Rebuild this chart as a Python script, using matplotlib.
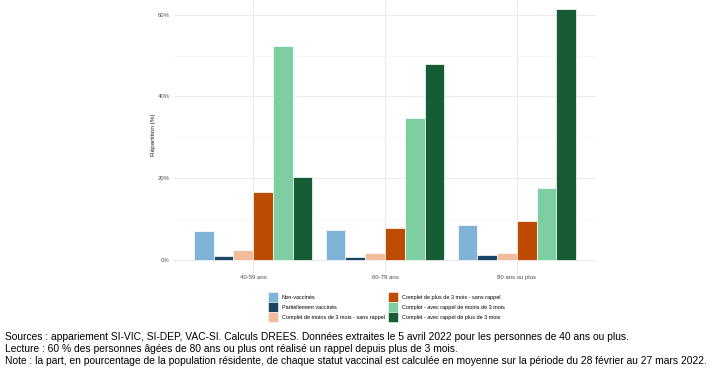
import numpy as np
import matplotlib.pyplot as plt
from matplotlib.patches import Patch

plt.rcParams['font.family'] = ['Liberation Sans', 'DejaVu Sans']

groups = ["40-59 ans", "60-79 ans", "80 ans ou plus"]
statuts = ["Non-vaccinés", "Partiellement vaccinés", "Complet de moins de 3 mois - sans rappel",
           "Complet de plus de 3 mois - sans rappel", "Complet - avec rappel de moins de 3 mois",
           "Complet - avec rappel de plus de 3 mois"]
colors = ["#7fb3d7", "#1b4565", "#f2bc9b", "#bd4b02", "#7dcfa1", "#165c35"]
values = [
    [7.2, 7.3, 8.55],
    [1.0, 0.65, 1.2],
    [2.5, 1.6, 1.6],
    [16.7, 7.9, 9.6],
    [52.3, 34.7, 17.6],
    [20.4, 48.0, 61.4],
]

fig = plt.figure(figsize=(7.22, 3.73), dpi=100)
ax = fig.add_axes([174 / 722, 1 - 272.6 / 373, 422 / 722, 276.4 / 373])

x = np.arange(1, len(groups) + 1)
w = 0.15
for i, (lab, col) in enumerate(zip(statuts, colors)):
    ax.bar(x + (i - 2.5) * w, values[i], width=w, color=col, edgecolor="white", linewidth=0.5,
           label=lab, zorder=3)

ax.set_xlim(0.4, 3.6)
ax.set_ylim(-3.07, 64.5)
ax.set_yticks([0, 20, 40, 60])
ax.set_yticklabels(["0%", "20%", "40%", "60%"])
ax.set_yticks([10, 30, 50], minor=True)
ax.set_xticks(x)
ax.set_xticklabels(groups)
ax.tick_params(axis="both", which="both", length=0, labelsize=4.3, labelcolor="#4d4d4d")
ax.tick_params(axis="x", pad=2)
ax.tick_params(axis="y", pad=3)
ax.grid(which="major", color="#ebebeb", linewidth=0.8, zorder=0)
ax.grid(which="minor", axis="y", color="#f4f4f4", linewidth=0.5, zorder=0)
for s in ax.spines.values():
    s.set_visible(False)
ax.set_ylabel("Répartition (%)", fontsize=4.6, color="#222222", labelpad=1.5)

handles = [Patch(facecolor=c, edgecolor="white", linewidth=0.4) for c in colors]
fig.legend(handles, statuts, loc="upper left", bbox_to_anchor=(268 / 722, 1 - 292 / 373), ncol=2,
           frameon=False, fontsize=4.0, handlelength=1.8, handleheight=2.4, columnspacing=0.55,
           handletextpad=0.72, labelspacing=0.0, borderpad=0, borderaxespad=0)

notes = [
    "Sources : appariement SI-VIC, SI-DEP, VAC-SI. Calculs DREES. Données extraites le 5 avril 2022 pour les personnes de 40 ans ou plus.",
    "Lecture : 60 % des personnes âgées de 80 ans ou plus ont réalisé un rappel depuis plus de 3 mois.",
    "Note : la part, en pourcentage de la population résidente, de chaque statut vaccinal est calculée en moyenne sur la période du 28 février au 27 mars 2022.",
]
for k, t in enumerate(notes):
    fig.text(5 / 722, 1 - (337 + 12 * k) / 373, t, fontsize=7.4, va="center", ha="left")

fig.savefig("out.png", dpi=100)
